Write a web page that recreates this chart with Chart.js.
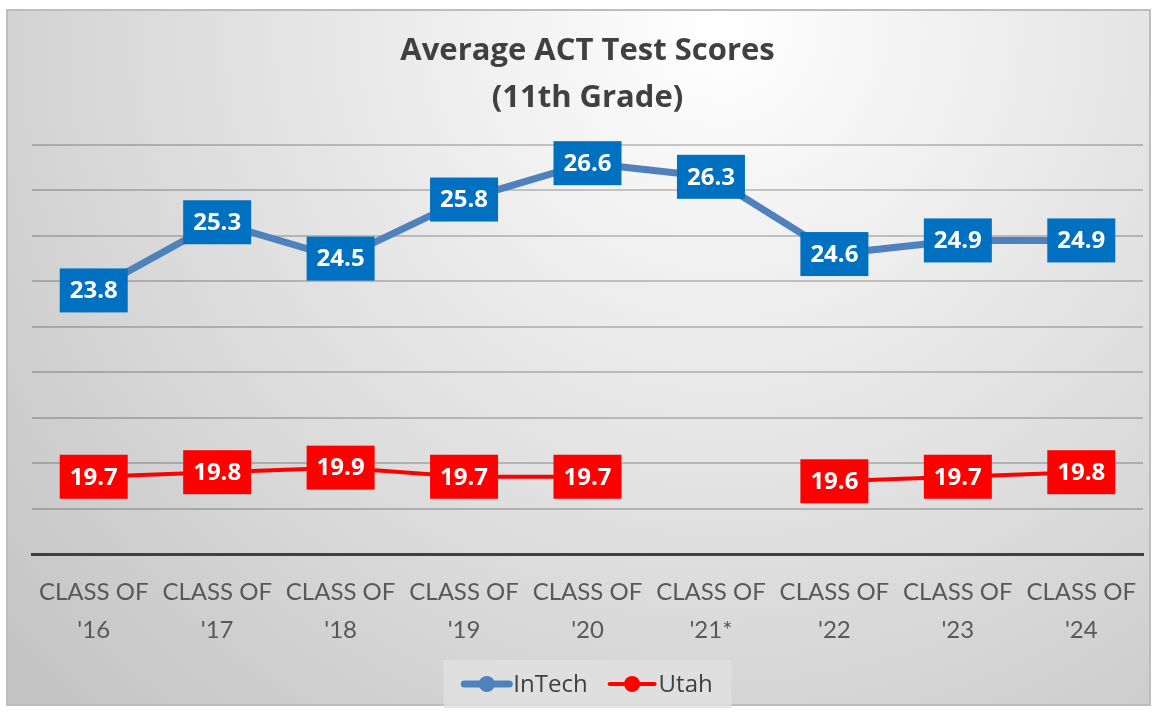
<!DOCTYPE html>
<html>
<head>
<meta charset="utf-8">
<script src="https://cdn.jsdelivr.net/npm/chart.js@4"></script>
<style>
  html, body { margin: 0; padding: 0; background: #fff; }
  #wrap { width: 1158px; height: 712px; }
</style>
</head>
<body>
<div id="wrap"><canvas id="actChart" width="1158" height="712"></canvas></div>
<script>
'use strict'

// chart data
var classLabels = [
  ['CLASS OF', "'16"], ['CLASS OF', "'17"], ['CLASS OF', "'18"],
  ['CLASS OF', "'19"], ['CLASS OF', "'20"], ['CLASS OF', "'21*"],
  ['CLASS OF', "'22"], ['CLASS OF', "'23"], ['CLASS OF', "'24"]
]
var intechScores = [23.8, 25.3, 24.5, 25.8, 26.6, 26.3, 24.6, 24.9, 24.9]
var utahScores = [19.7, 19.8, 19.9, 19.7, 19.7, null, 19.6, 19.7, 19.8]
var seriesNames = ['InTech', 'Utah']

var FONT = 'Lato, "Open Sans", sans-serif'
var BOLD_FONT = '"Open Sans", Lato, sans-serif'

// grey frame + soft gradient behind everything
var backgroundPlugin = {
  id: 'bgFrame',
  beforeDraw: function (chart) {
    var ctx = chart.ctx
    var w = chart.width, h = chart.height
    ctx.save()
    ctx.fillStyle = '#ffffff'
    ctx.fillRect(0, 0, w, h)
    var g = ctx.createRadialGradient(720, 30, 0, 720, 30, 950)
    g.addColorStop(0, '#ffffff')
    g.addColorStop(1, '#c4c4c4')
    ctx.fillStyle = g
    ctx.fillRect(7, 10, w - 15, h - 17)
    ctx.strokeStyle = '#bdbdbd'
    ctx.lineWidth = 2
    ctx.strokeRect(7, 10, w - 15, h - 17)
    ctx.restore()
  }
}

// value boxes centred on each point
var valueBoxPlugin = {
  id: 'valueBoxes',
  afterDatasetsDraw: function (chart) {
    var ctx = chart.ctx
    ctx.save()
    ctx.font = 'bold 24px ' + BOLD_FONT
    ctx.textAlign = 'center'
    ctx.textBaseline = 'middle'
    chart.data.datasets.forEach(function (ds, i) {
      var meta = chart.getDatasetMeta(i)
      meta.data.forEach(function (pt, j) {
        var v = ds.data[j]
        if (v === null || v === undefined) return
        var txt = v.toFixed(1)
        var bw = 68, bh = 44
        ctx.fillStyle = ds.boxColor
        ctx.fillRect(pt.x - bw / 2, pt.y - bh / 2, bw, bh)
        ctx.fillStyle = '#ffffff'
        ctx.fillText(txt, pt.x, pt.y + 1)
      })
    })
    ctx.restore()
  }
}

// legend box at the bottom: line-with-dot markers
var legendPlugin = {
  id: 'lineLegend',
  afterDraw: function (chart) {
    var ctx = chart.ctx
    var area = chart.chartArea
    ctx.save()
    ctx.font = '24px ' + BOLD_FONT
    ctx.textBaseline = 'middle'
    var markW = 49, gap = 2, itemGap = 20
    var items = chart.data.datasets.map(function (ds) {
      return { ds: ds, w: markW + gap + ctx.measureText(ds.label).width }
    })
    var total = items.reduce(function (s, it) { return s + it.w }, 0) + itemGap * (items.length - 1)
    var cx = (area.left + area.right) / 2
    var boxW = 288, boxH = 48
    var cy = 684
    ctx.fillStyle = 'rgba(225,225,225,0.8)'
    ctx.fillRect(cx - boxW / 2, cy - boxH / 2, boxW, boxH)
    var x = cx - total / 2
    items.forEach(function (it) {
      var ds = it.ds
      ctx.strokeStyle = ds.borderColor
      ctx.lineWidth = ds.borderWidth
      ctx.lineCap = 'round'
      ctx.beginPath()
      ctx.moveTo(x + 2, cy)
      ctx.lineTo(x + markW - 2, cy)
      ctx.stroke()
      ctx.fillStyle = ds.borderColor
      ctx.beginPath()
      ctx.arc(x + markW / 2, cy, 8, 0, Math.PI * 2)
      ctx.fill()
      ctx.fillStyle = '#404040'
      ctx.fillText(ds.label, x + markW + gap, cy + 1)
      x += it.w + itemGap
    })
    ctx.restore()
  }
}

var ctx = document.getElementById('actChart')
new Chart(ctx, {
  type: 'line',
  data: {
    labels: classLabels,
    datasets: [
      {
        label: seriesNames[0],
        data: intechScores,
        borderColor: '#4F81BD',
        boxColor: '#0070C0',
        borderWidth: 7,
        pointRadius: 0,
        tension: 0
      },
      {
        label: seriesNames[1],
        data: utahScores,
        borderColor: '#FF0000',
        boxColor: '#FF0000',
        borderWidth: 4,
        pointRadius: 0,
        tension: 0,
        spanGaps: false
      }
    ]
  },
  options: {
    responsive: false,
    animation: false,
    layout: { padding: { left: 32, right: 15, top: 0, bottom: 0 } },
    plugins: {
      legend: { display: false },
      tooltip: { enabled: false },
      title: {
        display: true,
        text: ['Average ACT Test Scores', '(11th Grade)'],
        color: '#404040',
        font: { family: BOLD_FONT, size: 31, weight: 'bold', lineHeight: 1.5 },
        padding: { top: 28, bottom: 24 }
      }
    },
    scales: {
      x: {
        offset: true,
        grid: { display: false, drawTicks: false },
        border: { display: true, color: '#404040', width: 3 },
        ticks: {
          color: '#595959',
          font: { family: FONT, size: 24, lineHeight: 1.55 },
          padding: 20,
          maxRotation: 0,
          autoSkip: false
        },
        afterFit: function (scale) { scale.height = 158 }
      },
      y: {
        min: 18,
        max: 27,
        ticks: { display: false, stepSize: 1 },
        border: { display: false },
        grid: {
          drawTicks: false,
          lineWidth: 2,
          color: function (c) { return c.tick && c.tick.value === 18 ? 'rgba(0,0,0,0)' : 'rgba(0,0,0,0.2)' }
        },
        afterFit: function (scale) { scale.width = 0 }
      }
    }
  },
  plugins: [backgroundPlugin, valueBoxPlugin, legendPlugin]
})
</script>
</body>
</html>
